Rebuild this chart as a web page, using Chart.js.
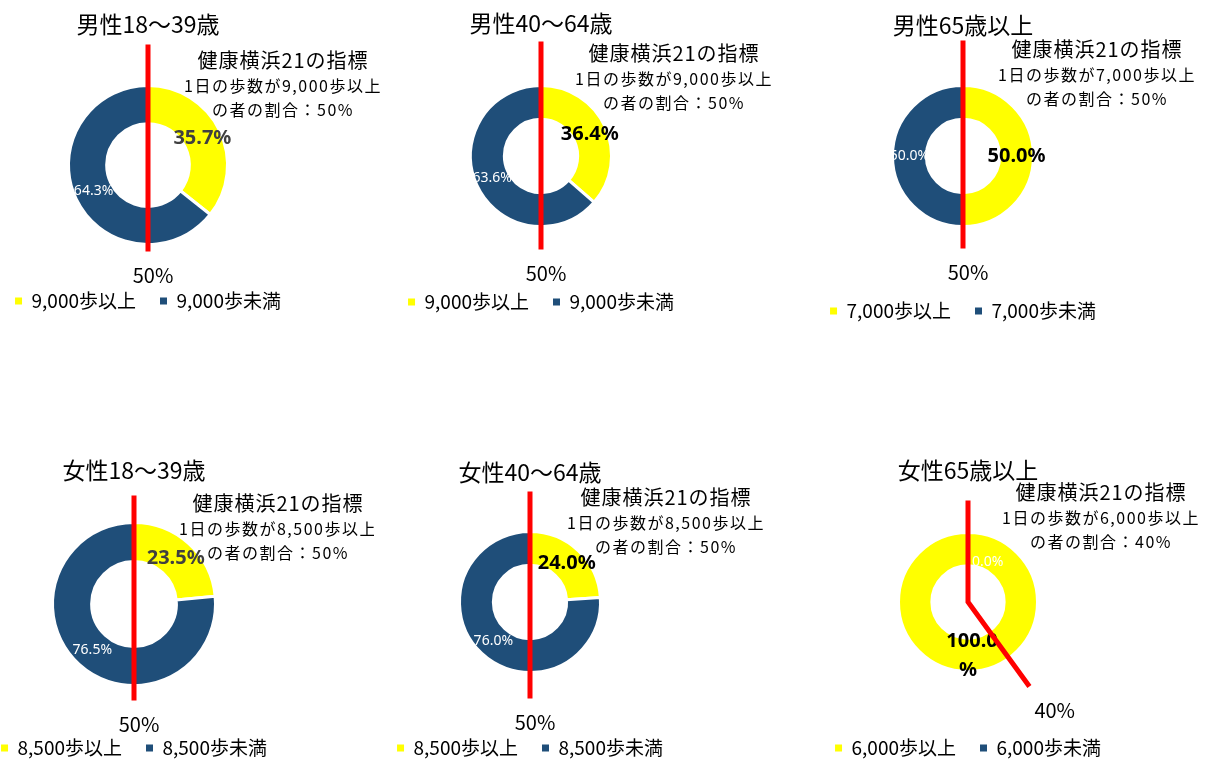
<!DOCTYPE html>
<html><head><meta charset="utf-8">
<script src="https://cdn.jsdelivr.net/npm/chart.js@4.4.1/dist/chart.umd.min.js"></script>
<style>
html,body{margin:0;padding:0;width:1214px;height:760px;overflow:hidden;background:#fff;}
canvas{position:absolute;}
</style></head><body>
<script>
// ---- data ----
const titles = ['男性18～39歳','男性40～64歳','男性65歳以上','女性18～39歳','女性40～64歳','女性65歳以上'];
const stepThresholds = ['9,000','9,000','7,000','8,500','8,500','6,000'];
const achieved = [35.7, 36.4, 50.0, 23.5, 24.0, 100.0];
const notAchieved = [64.3, 63.6, 50.0, 76.5, 76.0, 0.0];
const targets = [50, 50, 50, 50, 50, 40];
const indicatorTitle = '健康横浜21の指標';

// ---- layout / style (page coordinates) ----
const FONT = "'Noto Sans CJK JP', 'Noto Sans', sans-serif";
const panels = [
  {rowTop:0,   H:340, cx:148, cy:165, r:78, titleY:24,  legendY:301, noteX:283,  noteY:60,  topExt:41, endExt:7,  valColor:'#404040'},
  {rowTop:0,   H:340, cx:541, cy:156, r:69, titleY:23,  legendY:302, noteX:674,  noteY:53,  topExt:44, endExt:23, valColor:'#000000'},
  {rowTop:0,   H:340, cx:963, cy:156, r:69, titleY:25,  legendY:311, noteX:1097, noteY:49,  topExt:45, endExt:22, valColor:'#000000'},
  {rowTop:420, H:350, cx:134, cy:604, r:80, titleY:470, legendY:748, noteX:278,  noteY:503, topExt:27, endExt:15, valColor:'#404040'},
  {rowTop:420, H:350, cx:530, cy:602, r:69, titleY:472, legendY:748, noteX:666,  noteY:497, topExt:40, endExt:26, valColor:'#000000'},
  {rowTop:420, H:350, cx:968, cy:602, r:68, titleY:470, legendY:748, noteX:1101, noteY:492, topExt:32, endExt:35, valColor:'#000000'}
];
const W = 480;
const LEG_PAD = 24, LEG_FONT = 19, TITLE_FONT = 23;

const overlayPlugin = {
  id: 'overlay',
  afterDatasetsDraw(chart, args, o) {
    const ctx = chart.ctx;
    const meta = chart.getDatasetMeta(0);
    const ds = chart.data.datasets[0];
    const total = ds.data.reduce((a, b) => a + b, 0);
    ctx.save();
    // value labels
    meta.data.forEach((arc, i) => {
      const v = ds.data[i];
      const p = arc.tooltipPosition();
      const txt = v.toFixed(1) + '%';
      ctx.textBaseline = 'middle';
      if (i === 0) {
        ctx.font = "bold 20px 'Noto Sans', sans-serif";
        ctx.fillStyle = o.valColor;
        ctx.textAlign = 'center';
        if (txt.length > 5) {
          ctx.fillText(txt.slice(0, -1), p.x + 4, p.y - 14);
          ctx.fillText('%', p.x, p.y + 15);
        } else {
          ctx.fillText(txt, p.x, p.y);
        }
      } else {
        ctx.font = "14px 'Noto Sans', sans-serif";
        ctx.fillStyle = '#ffffff';
        if (v === 0) {
          ctx.textAlign = 'left';
          ctx.fillText(txt, p.x + 4, p.y + 13);
        } else {
          ctx.textAlign = 'center';
          ctx.fillText(txt, p.x, p.y);
        }
      }
    });
    // target line
    const a0 = meta.data[0];
    const cx = a0.x, cy = a0.y, R = a0.outerRadius;
    const start = a0.startAngle;
    const ang = start + (o.target / total) * Math.PI * 2;
    const top = {x: cx + Math.cos(start) * (R + o.topExt), y: cy + Math.sin(start) * (R + o.topExt)};
    const end = {x: cx + Math.cos(ang) * (R + o.endExt), y: cy + Math.sin(ang) * (R + o.endExt)};
    ctx.beginPath();
    ctx.moveTo(top.x, top.y);
    ctx.lineTo(cx, cy);
    ctx.lineTo(end.x, end.y);
    ctx.strokeStyle = '#ff0000';
    ctx.lineWidth = 5;
    ctx.lineJoin = 'miter';
    ctx.stroke();
    // target label
    ctx.font = "20px " + FONT;
    ctx.fillStyle = '#000';
    const vertical = Math.abs(Math.cos(ang)) < 0.2;
    ctx.textAlign = vertical ? 'center' : 'left';
    ctx.fillText(o.target + '%', end.x + 5, end.y + 24);
    // indicator note
    ctx.textAlign = 'center';
    ctx.font = "20px " + FONT;
    try { ctx.letterSpacing = '1px'; } catch (e) {}
    ctx.fillText(indicatorTitle, o.noteX, o.noteY);
    ctx.font = "16px " + FONT;
    try { ctx.letterSpacing = '1.5px'; } catch (e) {}
    ctx.fillText('1日の歩数が' + o.threshold + '歩以上', o.noteX, o.noteY + 26);
    ctx.fillText('の者の割合：' + o.target + '%', o.noteX, o.noteY + 50);
    try { ctx.letterSpacing = '0px'; } catch (e) {}
    ctx.restore();
  }
};

panels.forEach((L, i) => {
  const cv = document.createElement('canvas');
  const left = L.cx - W / 2;
  cv.width = W; cv.height = L.H;
  cv.style.left = left + 'px';
  cv.style.top = L.rowTop + 'px';
  cv.style.width = W + 'px'; cv.style.height = L.H + 'px';
  document.body.appendChild(cv);

  const tY = L.titleY - L.rowTop, lY = L.legendY - L.rowTop, cyL = L.cy - L.rowTop;
  const half = TITLE_FONT * 1.2 / 2;
  const legTop = lY - LEG_PAD - LEG_FONT / 2;
  const padBottom = L.H - (lY + LEG_FONT / 2 + 10);
  const areaTop = 2 * cyL - legTop;
  const titleBottom = areaTop - (tY + half);

  new Chart(cv, {
    type: 'doughnut',
    data: {
      labels: [stepThresholds[i] + '歩以上', stepThresholds[i] + '歩未満'],
      datasets: [{
        data: [achieved[i], notAchieved[i]],
        backgroundColor: ['#FFFF00', '#1F4E79'],
        borderColor: '#ffffff',
        borderWidth: 3
      }]
    },
    options: {
      responsive: false,
      animation: false,
      devicePixelRatio: 1,
      radius: L.r + 1.5,
      cutout: '52%',
      layout: {padding: {top: 0, bottom: padBottom, left: 0, right: 0}},
      plugins: {
        tooltip: {enabled: false},
        title: {
          display: true, text: titles[i], color: '#000',
          font: {size: TITLE_FONT, weight: 'normal', family: FONT},
          padding: {top: tY - half, bottom: titleBottom}
        },
        legend: {
          position: 'bottom',
          labels: {
            boxWidth: 7, boxHeight: 7, padding: LEG_PAD, color: '#000',
            font: {size: LEG_FONT, family: FONT},
            generateLabels: (chart) => Chart.overrides.doughnut.plugins.legend.labels.generateLabels(chart)
              .map(l => Object.assign({}, l, {lineWidth: 0, strokeStyle: l.fillStyle}))
          }
        },
        overlay: {
          valColor: L.valColor, target: targets[i], threshold: stepThresholds[i],
          topExt: L.topExt, endExt: L.endExt,
          noteX: L.noteX - left, noteY: L.noteY - L.rowTop
        }
      }
    },
    plugins: [overlayPlugin]
  });
});
</script>
</body></html>
